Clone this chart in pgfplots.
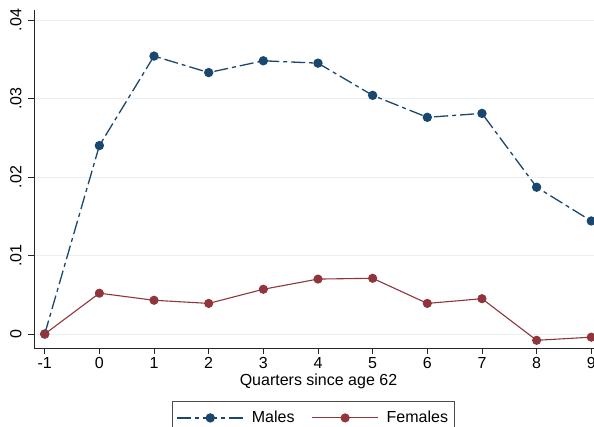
\documentclass[border=0pt]{standalone}
\usepackage{pgfplots}
\pgfplotsset{compat=1.18}
\usepackage{pgfplotstable}
\usepackage{fontspec}
\setmainfont{Liberation Sans}
\definecolor{stnavy}{RGB}{26,71,111}
\definecolor{stmaroon}{RGB}{144,53,59}
\definecolor{gridc}{RGB}{230,239,241}
\pgfplotstableread{
q males females
-1 0.0000 0.0000
0 0.0240 0.0052
1 0.0354 0.0043
2 0.0333 0.0039
3 0.0348 0.0057
4 0.0345 0.0070
5 0.0304 0.0071
6 0.0276 0.0039
7 0.0281 0.0045
8 0.0187 -0.0008
9 0.0144 -0.0004
}\datatable
\begin{document}
\begin{tikzpicture}
\begin{axis}[
  scale only axis, width=560pt, height=338pt,
  xmin=-1.196, xmax=9.05, ymin=-0.00178, ymax=0.04127,
  scaled y ticks=false,
  axis lines*=left,
  axis line style={line width=0.8pt, black!85},
  xtick={-1,0,1,2,3,4,5,6,7,8,9},
  xticklabels={-1,0,1,2,3,4,5,6,7,8,9},
  ytick={0,0.01,0.02,0.03,0.04},
  yticklabels={0,.01,.02,.03,.04},
  tick align=outside, major tick length=6pt,
  tick style={black!85, line width=0.8pt},
  ymajorgrids, grid style={gridc, line width=0.8pt},
  ticklabel style={font=\fontsize{16}{19}\selectfont},
  yticklabel style={rotate=90, anchor=south},
  yticklabel shift=3pt,
  clip=false,
  xlabel={Quarters since age 62},
  xlabel style={font=\fontsize{16}{19}\selectfont, at={(axis description cs:0.508,0)}, anchor=center, yshift=-33pt},
  legend columns=2,
  legend style={at={(axis description cs:0.247,-0.157)}, anchor=north west,
    draw=black!70, line width=0.6pt, font=\fontsize{16}{19}\selectfont,
    /tikz/every odd column/.append style={column sep=6pt},
    /tikz/every even column/.append style={column sep=15pt},
    inner xsep=4pt, inner ysep=8pt},
  legend image code/.code={\draw[mark repeat=2,mark phase=2,#1] plot coordinates {(0pt,0pt) (33pt,0pt) (66pt,0pt)};},
]
\addplot[stnavy, line width=1.3pt, dash pattern=on 14pt off 4pt on 4pt off 4pt, mark=*, mark size=4pt, mark options={solid, fill=stnavy, draw=stnavy}] table[x=q, y=males] {\datatable};
\addlegendentry{Males}
\addplot[stmaroon, line width=1.1pt, mark=*, mark size=4pt, mark options={solid, fill=stmaroon, draw=stmaroon}] table[x=q, y=females] {\datatable};
\addlegendentry{Females\hspace{12pt}}
\end{axis}
\pgfresetboundingbox
\useasboundingbox (-34pt,-78pt) rectangle (560pt,348pt);
\end{tikzpicture}
\end{document}
